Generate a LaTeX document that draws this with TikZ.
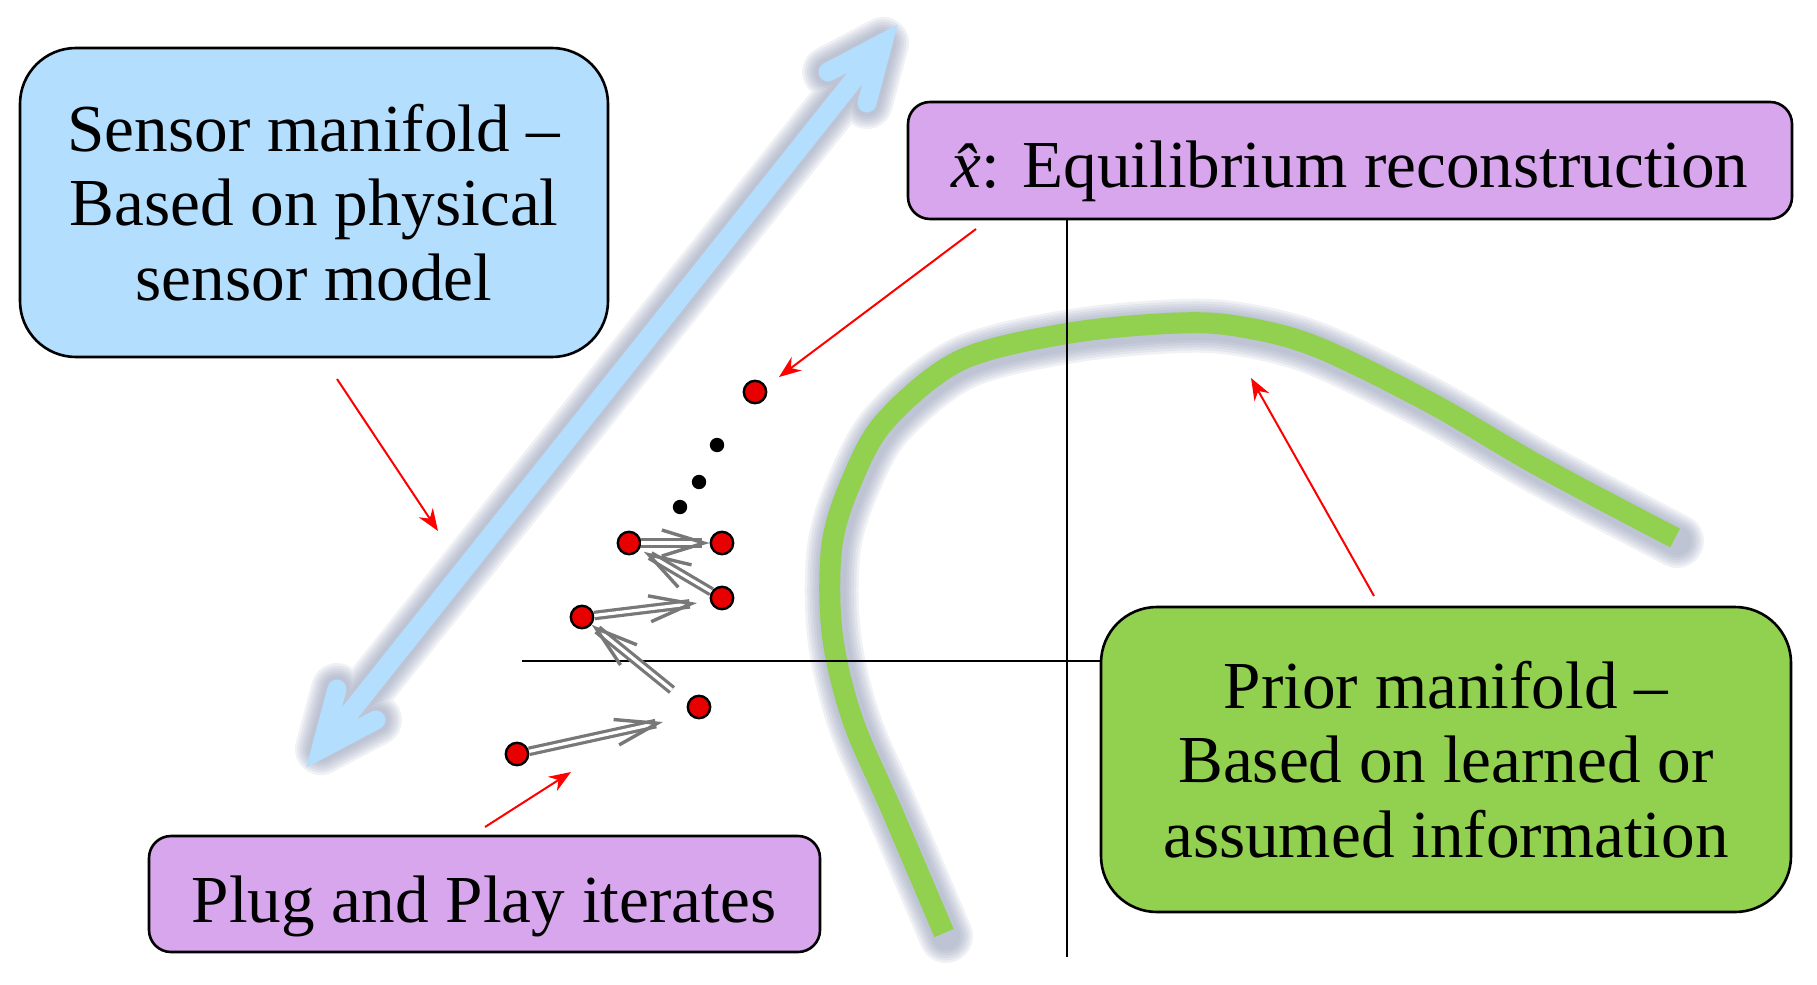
\documentclass[tikz,border=0pt]{standalone}
\usepackage{fontspec}
\setmainfont{Liberation Serif}
\usetikzlibrary{arrows.meta}
\definecolor{sensorblue}{RGB}{180,222,253}
\definecolor{boxpurple}{RGB}{215,166,236}
\definecolor{boxgreen}{RGB}{146,208,80}
\definecolor{dotred}{RGB}{232,0,0}
\definecolor{arrgray}{RGB}{120,120,120}
\definecolor{glowc}{RGB}{140,150,178}
\tikzset{
  box/.style={draw=black, line width=0.65pt, inner sep=0pt},
  txt/.style={inner sep=0pt, align=center, font=\fontsize{16.8}{18.6}\selectfont},
  reddot/.style={circle, draw=black, line width=0.6pt, fill=dotred, minimum size=5.6pt, inner sep=0pt},
  blkdot/.style={circle, fill=black, minimum size=3.6pt, inner sep=0pt},
  redarr/.style={draw=red, line width=0.5pt, -{Stealth[length=5.5pt,width=4.2pt]}},
  grayarr/.style={draw=arrgray, line width=0.8pt, double=white, double distance=0.8pt,
    -{Straight Barb[length=10.5pt,width=6.5pt,line width=0.85pt]}},
  axisline/.style={draw=black, line width=0.5pt},
  glowline/.style={draw=glowc, opacity=0.13, line cap=round, line join=round},
}
\begin{document}
\begin{tikzpicture}[x=0.25pt, y=-0.25pt]
\useasboundingbox (0,0) rectangle (1817,984);

% ---------- green prior curve with glow ----------
\foreach \w in {54,49,44,39,34,29} {
  \draw[glowline, line width=\w*0.25pt, shift={(2,3)}] plot[smooth, tension=0.55] coordinates {
    (944,933) (892,811) (852,718) (832,632) (832,545) (852,480) (886,420) (961,360)
    (1070,333) (1179,323) (1242,327) (1317,347) (1431,403) (1541,467) (1675,538)};
}
\draw[boxgreen, line width=5.25pt] plot[smooth, tension=0.55] coordinates {
    (944,933) (892,811) (852,718) (832,632) (832,545) (852,480) (886,420) (961,360)
    (1070,333) (1179,323) (1242,327) (1317,347) (1431,403) (1541,467) (1675,538)};

% ---------- blue sensor double arrow with glow ----------
\coordinate (bL) at (321,749);
\coordinate (bL1) at (337,689);
\coordinate (bL2) at (376,720);
\coordinate (bU) at (883,43);
\coordinate (bU1) at (867,103);
\coordinate (bU2) at (828,72);
\foreach \w in {52,47,42,37,32,27} {
  \draw[glowline, line width=\w*0.25pt, shift={(2,3)}]
    (bL1) -- (bL) -- (bL2) (bL) -- (bU) (bU1) -- (bU) -- (bU2);
}
\draw[sensorblue, line width=4.75pt, line cap=round, line join=miter]
    (bL1) -- (bL) -- (bL2) (bL) -- (bU) (bU1) -- (bU) -- (bU2);

% ---------- axes ----------
\coordinate (vb) at (1067,957);
\coordinate (hl) at (522,661);

% ---------- boxes ----------
\node[box, fill=sensorblue, rounded corners=14pt, minimum width=147pt, minimum height=77.25pt] (sensor) at (314,202.5) {};
\node[txt, anchor=base] (sensorT) at (314,300) {Sensor manifold --\\Based on physical\\sensor model};

\node[box, fill=boxpurple, rounded corners=5.5pt, minimum width=221pt, minimum height=29.25pt] (eq) at (1350,160.5) {};
\node[txt, anchor=base] (eqT) at (1350,188) {{\itshape\^{x}}: Equilibrium reconstruction};

\node[box, fill=boxpurple, rounded corners=5.5pt, minimum width=167.75pt, minimum height=29pt] (plug) at (484.5,894) {};
\node[txt, anchor=base] (plugT) at (484,922) {Plug and Play iterates};

\node[box, fill=boxgreen, rounded corners=14pt, minimum width=172.5pt, minimum height=76.25pt] (prior) at (1446,759.5) {};
\node[txt, anchor=base] (priorT) at (1446,857) {Prior manifold --\\Based on learned or\\assumed information};

\draw[axisline] (vb) -- (vb |- eq.south);
\draw[axisline] (hl) -- (hl -| prior.west);

% ---------- iterates ----------
\node[reddot] (d1) at (517,754) {};
\node[reddot] (d2) at (699,707) {};
\node[reddot] (d3) at (582,617) {};
\node[reddot] (d4) at (722,598) {};
\node[reddot] (d5) at (629,543) {};
\node[reddot] (d6) at (722,543) {};
\node[blkdot] (k1) at (680,507) {};
\node[blkdot] (k2) at (699,482) {};
\node[blkdot] (k3) at (717,445) {};
\node[reddot] (dx) at (755,392) {};

\coordinate (g1) at (663,722);
\coordinate (g2) at (672,690);
\coordinate (g3) at (697,603);
\draw[grayarr] (d1) -- (g1);
\draw[grayarr] (g2) -- (d3);
\draw[grayarr] (d3) -- (g3);
\draw[grayarr, shorten >=1.2pt] (d4) -- (d5);
\draw[grayarr] (d5) -- (d6);

% ---------- red pointer arrows ----------
\coordinate (r1s) at (337,379);
\coordinate (r1e) at (438,531);
\coordinate (r2s) at (976,229);
\coordinate (r2e) at (779,377);
\coordinate (r3s) at (1374,596);
\coordinate (r3e) at (1251,378);
\coordinate (r4s) at (485,827);
\coordinate (r4e) at (571,772);
\draw[redarr] (r1s) -- (r1e);
\draw[redarr] (r2s) -- (r2e);
\draw[redarr] (r3s) -- (r3e);
\draw[redarr] (r4s) -- (r4e);
\end{tikzpicture}
\end{document}
